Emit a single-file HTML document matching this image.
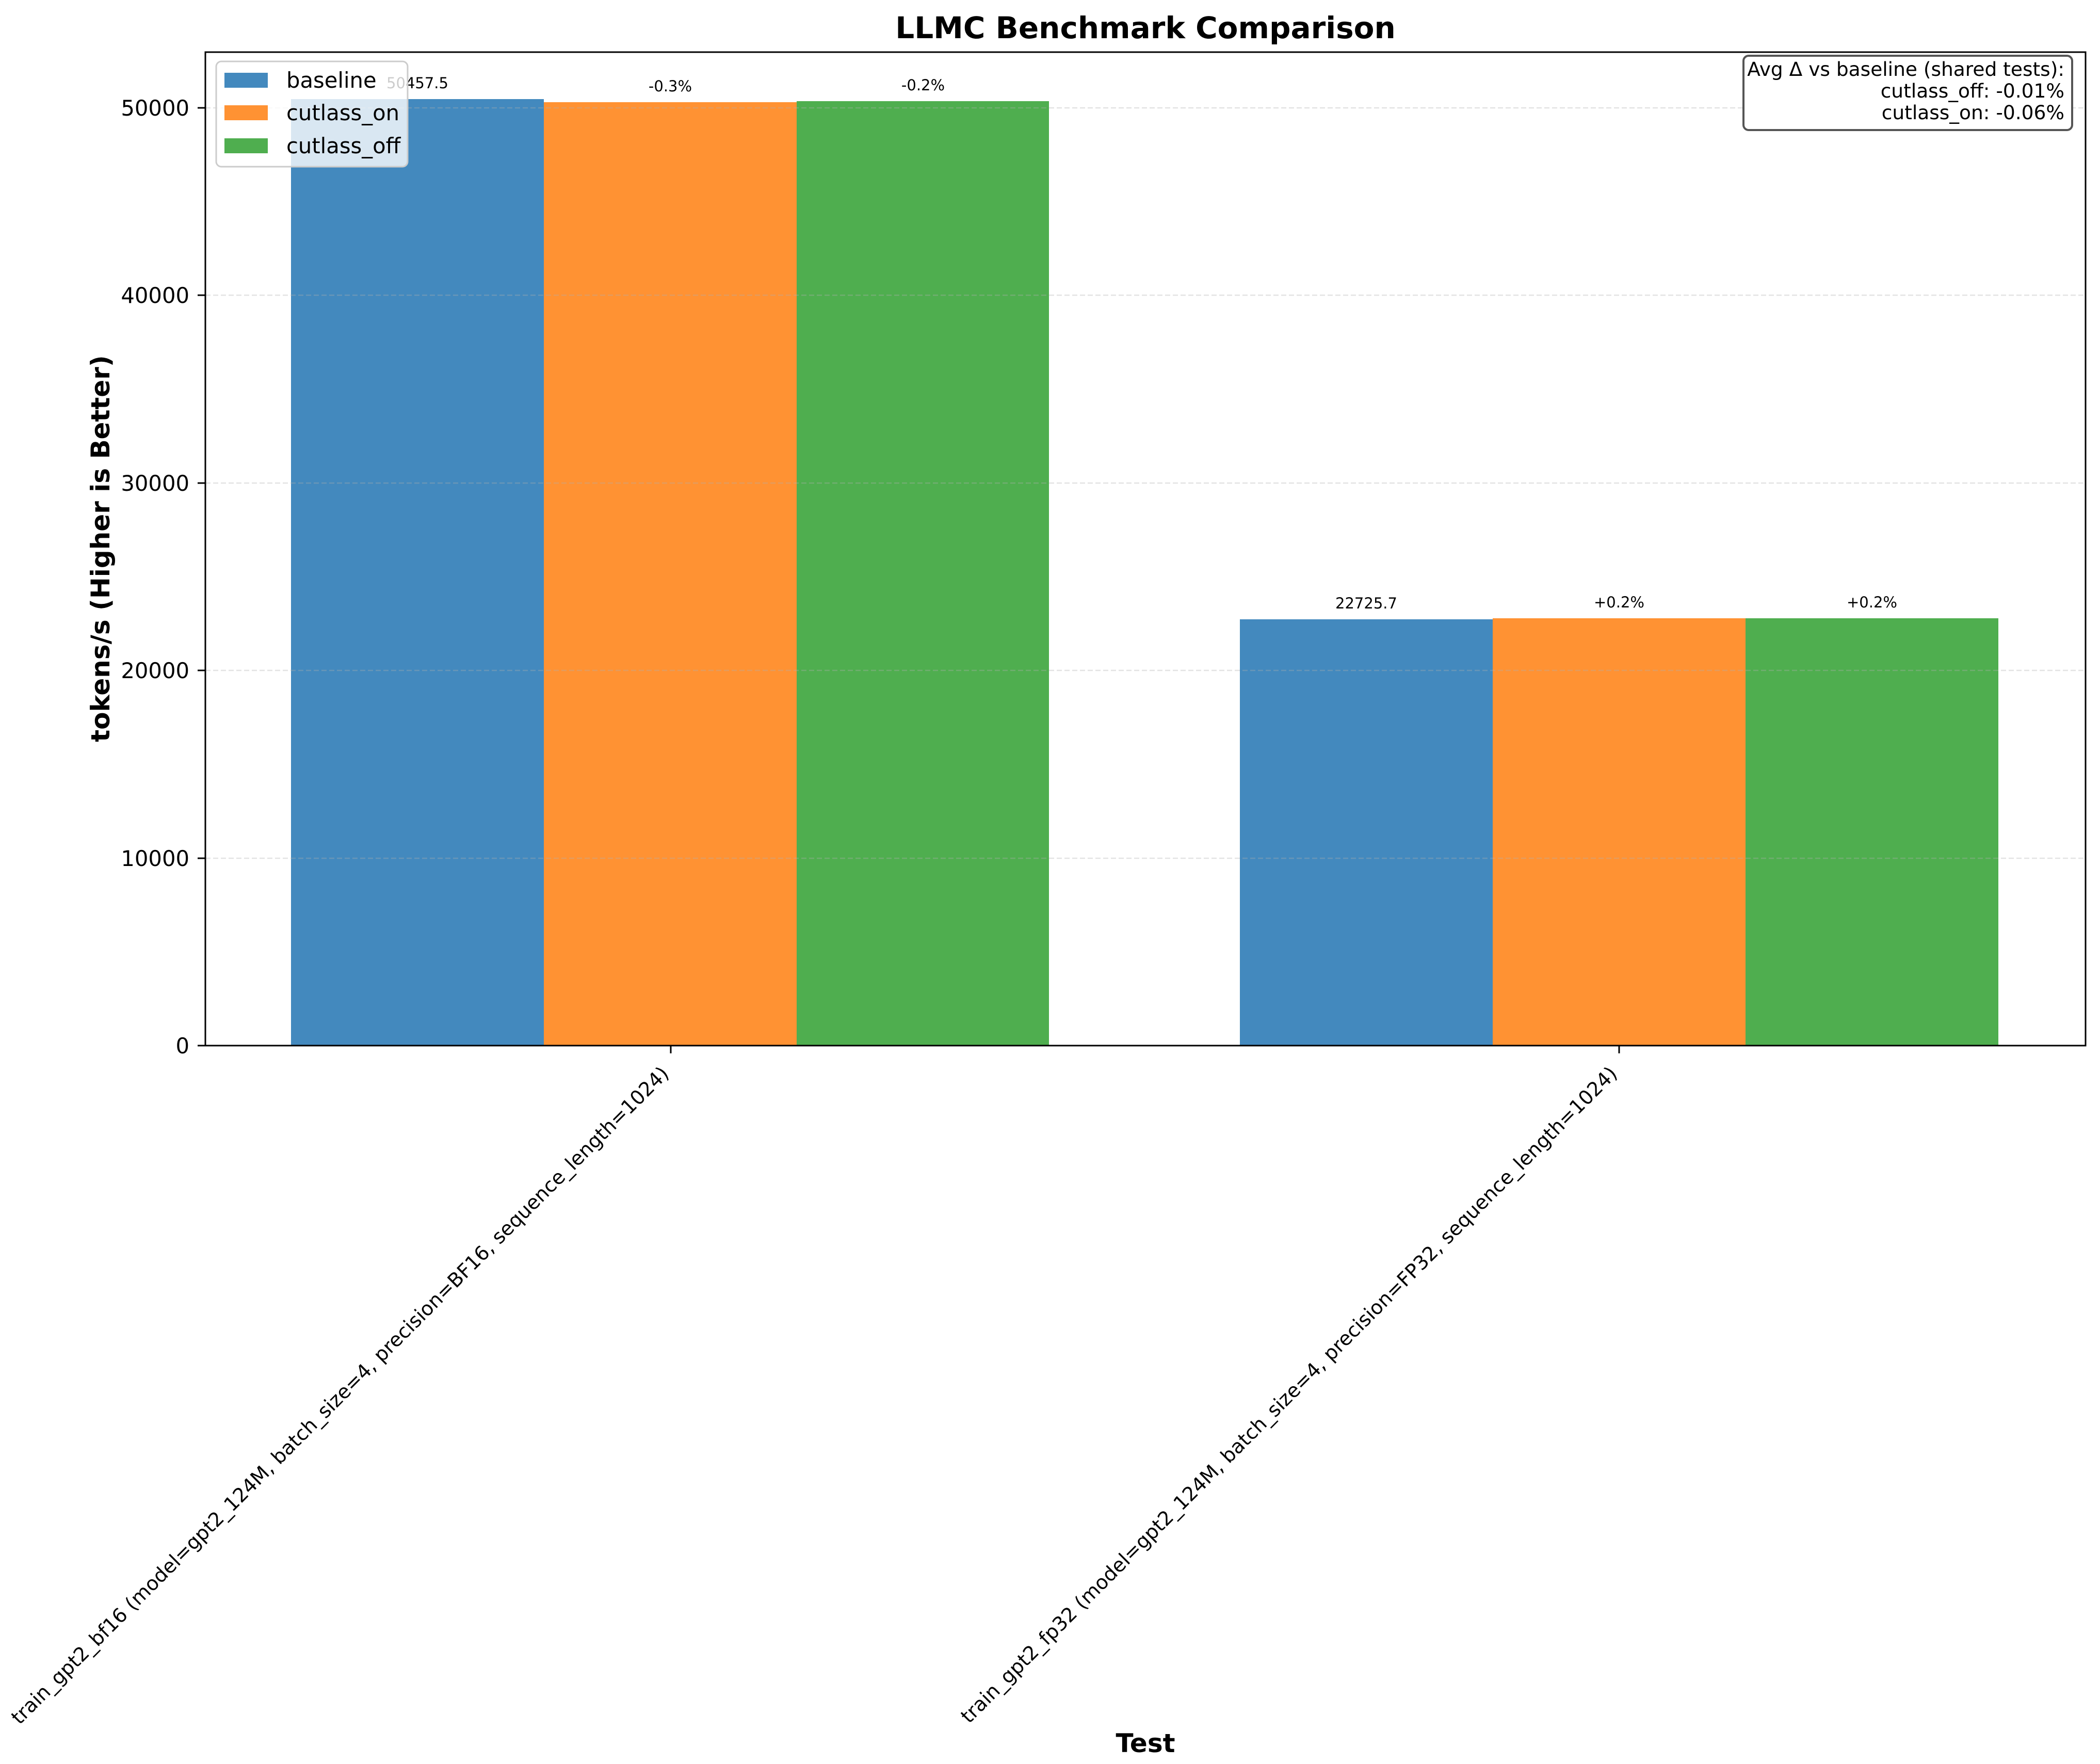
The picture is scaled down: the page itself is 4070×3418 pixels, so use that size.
<!DOCTYPE html>
<html><head><meta charset="utf-8"><style>html,body{margin:0;padding:0;background:#fff}svg{display:block}</style></head>
<body>
<svg width="4070" height="3418" viewBox="0 0 4070 3418" xmlns="http://www.w3.org/2000/svg" font-family="'DejaVu Sans','Liberation Sans',sans-serif">
<rect width="4070" height="3418" fill="#fff"/>
<!-- bars -->
<rect x="564" y="192" width="490" height="1834" fill="#4389be"/>
<rect x="1054" y="198" width="490" height="1828" fill="#ff9233"/>
<rect x="1544" y="196" width="489" height="1830" fill="#4fae4f"/>
<rect x="2403" y="1200" width="490" height="826" fill="#4389be"/>
<rect x="2893" y="1198" width="490" height="828" fill="#ff9233"/>
<rect x="3383" y="1198" width="490" height="828" fill="#4fae4f"/>
<!-- grid -->
<g stroke="#b0b0b0" stroke-opacity="0.35" stroke-width="2.5" stroke-dasharray="10,5">
<line x1="398" x2="4042" y1="1663" y2="1663"/>
<line x1="398" x2="4042" y1="1299" y2="1299"/>
<line x1="398" x2="4042" y1="936" y2="936"/>
<line x1="398" x2="4042" y1="572" y2="572"/>
<line x1="398" x2="4042" y1="209" y2="209"/>
</g>
<!-- axes -->
<rect x="398" y="101" width="3644" height="1925" fill="none" stroke="#000" stroke-width="3"/>
<g stroke="#000" stroke-width="3">
<line x1="383" x2="398" y1="2026" y2="2026"/>
<line x1="383" x2="398" y1="1663" y2="1663"/>
<line x1="383" x2="398" y1="1299" y2="1299"/>
<line x1="383" x2="398" y1="936" y2="936"/>
<line x1="383" x2="398" y1="572" y2="572"/>
<line x1="383" x2="398" y1="209" y2="209"/>
<line x1="1300" x2="1300" y1="2026" y2="2041"/>
<line x1="3138" x2="3138" y1="2026" y2="2041"/>
</g>
<g font-size="41.7" text-anchor="end" fill="#000">
<text x="367" y="2041">0</text>
<text x="367" y="1678">10000</text>
<text x="367" y="1314">20000</text>
<text x="367" y="951">30000</text>
<text x="367" y="587">40000</text>
<text x="367" y="224">50000</text>
</g>
<!-- x tick labels -->
<g font-size="38" text-anchor="end">
<text transform="translate(1278,2062) rotate(-45)" x="0" y="29">train_gpt2_bf16 (model=gpt2_124M, batch_size=4, precision=BF16, sequence_length=1024)</text>
<text transform="translate(3116,2062) rotate(-45)" x="0" y="29">train_gpt2_fp32 (model=gpt2_124M, batch_size=4, precision=FP32, sequence_length=1024)</text>
</g>
<!-- bar labels -->
<g font-size="29" text-anchor="middle">
<text x="809" y="171">50457.5</text>
<text x="1299" y="177">-0.3%</text>
<text x="1789" y="175">-0.2%</text>
<text x="2648" y="1179">22725.7</text>
<text x="3138" y="1177">+0.2%</text>
<text x="3628" y="1177">+0.2%</text>
</g>
<!-- legend -->
<rect x="419" y="119" width="371" height="204" rx="10" fill="#fff" fill-opacity="0.8" stroke="#cccccc" stroke-width="3"/>
<rect x="435" y="141" width="84" height="29" fill="#4389be"/>
<rect x="435" y="204" width="84" height="29" fill="#ff9233"/>
<rect x="435" y="268" width="84" height="29" fill="#4fae4f"/>
<g font-size="41.7">
<text x="555" y="170">baseline</text>
<text x="555" y="233">cutlass_on</text>
<text x="555" y="297">cutlass_off</text>
</g>
<!-- stats box -->
<rect x="3379" y="108" width="637" height="144" rx="10" fill="#fff" stroke="#555" stroke-width="4"/>
<g font-size="37.5" text-anchor="end">
<text x="4001" y="147">Avg Δ vs baseline (shared tests):</text>
<text x="4001" y="189">cutlass_off: -0.01%</text>
<text x="4001" y="231">cutlass_on: -0.06%</text>
</g>
<!-- titles -->
<text x="2220" y="74" font-size="58" font-weight="bold" text-anchor="middle">LLMC Benchmark Comparison</text>
<text x="2220" y="3395" font-size="50" font-weight="bold" text-anchor="middle">Test</text>
<text transform="translate(212,1063) rotate(-90)" x="0" y="0" font-size="50" font-weight="bold" text-anchor="middle">tokens/s (Higher is Better)</text>
</svg>
</body></html>
